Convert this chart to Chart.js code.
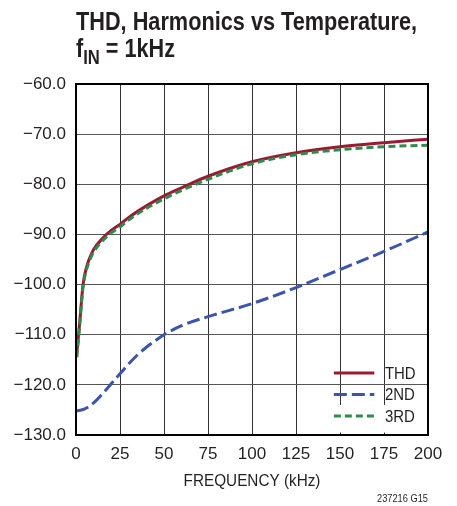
<!DOCTYPE html>
<html>
<head>
<meta charset="utf-8">
<script src="https://cdn.jsdelivr.net/npm/chart.js@4"></script>
<style>
  html, body { margin: 0; padding: 0; background: #fff; }
  #wrap { position: relative; width: 457px; height: 506px; overflow: hidden; }
  canvas { position: absolute; left: 0; top: 0; }
  .title { position: absolute; left: 76px; font-family: "Liberation Sans", Arial, sans-serif; font-weight: bold; font-size: 26px; color: #231f20; white-space: nowrap; line-height: 1; transform-origin: 0 0; }
  #t1 { top: 8px; }
  #t2 { top: 35px; }
  #t2 sub { font-size: 20px; vertical-align: -7px; line-height: 0; }
  #note { position: absolute; left: 377px; top: 493px; font-family: "Liberation Sans", Arial, sans-serif; font-size: 11px; color: #231f20; white-space: nowrap; line-height: 1; transform-origin: 0 0; }
</style>
</head>
<body>
<div id="wrap">
  <canvas id="c" width="457" height="506"></canvas>
  <div class="title" id="t1">THD, Harmonics vs Temperature,</div>
  <div class="title" id="t2">f<sub>IN</sub> = 1kHz</div>
  <div id="note">237216 G15</div>
</div>
<script>
const seriesNames = ["THD", "2ND", "3RD"];
const thdX = [0.5, 2, 4, 6, 8, 10, 15, 20, 25, 30, 40, 50, 60, 75, 100, 125, 150, 175, 200];
const thdY = [-113.5, -108, -100, -96.5, -94.5, -93, -90.8, -89.2, -88, -86.6, -84.3, -82.3, -80.7, -78.4, -75.5, -73.7, -72.5, -71.7, -71.0];
const h3X = [0.5, 2, 4, 6, 8, 10, 15, 20, 25, 30, 40, 50, 60, 75, 100, 125, 150, 175, 200];
const h3Y = [-114.5, -108.5, -100.5, -97, -95, -93.5, -91.3, -89.7, -88.5, -87.1, -84.8, -82.9, -81.2, -79.0, -75.9, -74.1, -73.1, -72.5, -72.2];
const h2X = [0, 5, 10, 15, 20, 25, 30, 35, 40, 45, 50, 60, 75, 100, 125, 150, 175, 200];
const h2Y = [-125.2, -124.8, -123.6, -121.8, -119.8, -117.8, -115.8, -114.0, -112.5, -111.2, -110.0, -108.2, -106.4, -103.8, -100.6, -97.0, -93.4, -89.5];
const xTicks = [0, 25, 50, 75, 100, 125, 150, 175, 200];
const yTicks = [-130, -120, -110, -100, -90, -80, -70, -60];
const xTitle = "FREQUENCY (kHz)";
const colors = ["#9a1a32", "#3b55a9", "#2f8a4c"];
const dashes = [[], [13, 5], [7, 4]];

function fitWidth(id, w) {
  const el = document.getElementById(id);
  const cur = el.getBoundingClientRect().width;
  el.style.transform = 'scaleX(' + (w / cur) + ')';
}
fitWidth('t1', 341);
fitWidth('t2', 99);
fitWidth('note', 51);

const FONT = '"Liberation Sans", Arial, sans-serif';
const pts = (xs, ys) => xs.map((x, i) => ({ x: x, y: ys[i] }));

function condensedText(ctx, text, x, y, sx, align) {
  ctx.save();
  ctx.translate(x, y);
  ctx.scale(sx, 1);
  ctx.textAlign = align;
  ctx.fillText(text, 0, 0);
  ctx.restore();
}

const legendPlugin = {
  id: 'inLegend',
  afterDatasetsDraw(chart) {
    const ctx = chart.ctx;
    const xs = chart.scales.x;
    const left = xs.getPixelForValue(141), right = xs.getPixelForValue(197);
    const ys = chart.scales.y;
    const top = ys.getPixelForValue(-124), bottom = ys.getPixelForValue(-129.5);
    ctx.save();
    ctx.fillStyle = '#fff';
    ctx.fillRect(left, top, right - left, bottom - top);
    const lx0 = xs.getPixelForValue(146.5), lx1 = xs.getPixelForValue(169.5);
    const tx = xs.getPixelForValue(175.5);
    const rowY = [373, 394.5, 416];
    seriesNames.forEach((n, i) => {
      ctx.beginPath();
      ctx.strokeStyle = colors[i];
      ctx.lineWidth = 3;
      ctx.setLineDash(dashes[i]);
      ctx.moveTo(lx0, rowY[i]);
      ctx.lineTo(lx1, rowY[i]);
      ctx.stroke();
      ctx.setLineDash([]);
      ctx.fillStyle = '#231f20';
      ctx.font = '17px ' + FONT;
      ctx.textBaseline = 'middle';
      condensedText(ctx, n, tx, rowY[i] + 1, 0.88, 'left');
    });
    ctx.restore();
  }
};

const xTitlePlugin = {
  id: 'xTitle',
  afterDraw(chart) {
    const a = chart.chartArea, ctx = chart.ctx;
    ctx.save();
    ctx.fillStyle = '#231f20';
    ctx.font = '17px ' + FONT;
    ctx.textBaseline = 'middle';
    condensedText(ctx, xTitle, (a.left + a.right) / 2, a.bottom + 46, 0.9, 'center');
    ctx.restore();
  }
};

new Chart(document.getElementById('c'), {
  type: 'line',
  data: {
    datasets: [
      { label: seriesNames[1], data: pts(h2X, h2Y), borderColor: colors[1], borderDash: dashes[1], borderWidth: 3, pointRadius: 0, cubicInterpolationMode: 'monotone', fill: false },
      { label: seriesNames[2], data: pts(h3X, h3Y), borderColor: colors[2], borderDash: dashes[2], borderWidth: 3, pointRadius: 0, cubicInterpolationMode: 'monotone', fill: false },
      { label: seriesNames[0], data: pts(thdX, thdY), borderColor: colors[0], borderWidth: 3, pointRadius: 0, cubicInterpolationMode: 'monotone', fill: false }
    ]
  },
  options: {
    responsive: false,
    animation: false,
    devicePixelRatio: 1,
    layout: { padding: { left: 0, top: 84, right: 29, bottom: 0 } },
    plugins: { legend: { display: false }, tooltip: { enabled: false }, title: { display: false } },
    scales: {
      x: {
        type: 'linear', min: 0, max: 200,
        afterBuildTicks: s => { s.ticks = xTicks.map(v => ({ value: v })); },
        afterFit: s => { s.height = 71; },
        grid: { color: '#333', lineWidth: 1, drawTicks: false },
        border: { color: '#000', width: 2 },
        ticks: { color: '#231f20', font: { family: FONT, size: 17 }, padding: 9, maxRotation: 0 },
        title: { display: false }
      },
      y: {
        type: 'linear', min: -130, max: -60,
        afterBuildTicks: s => { s.ticks = yTicks.map(v => ({ value: v })); },
        afterFit: s => { s.width = 76; },
        grid: { color: '#555', lineWidth: 1, drawTicks: false },
        border: { color: '#000', width: 2 },
        ticks: { color: '#231f20', font: { family: FONT, size: 17 }, padding: 10,
          callback: v => (v < 0 ? '\u2212' : '') + Math.abs(v).toFixed(1) }
      }
    }
  },
  plugins: [legendPlugin, xTitlePlugin, {
    id: 'frame',
    afterDraw(chart) {
      const a = chart.chartArea, ctx = chart.ctx;
      ctx.save();
      ctx.strokeStyle = '#000';
      ctx.lineWidth = 2;
      ctx.strokeRect(a.left, a.top, a.right - a.left, a.bottom - a.top);
      ctx.restore();
    }
  }]
});
</script>
</body>
</html>
